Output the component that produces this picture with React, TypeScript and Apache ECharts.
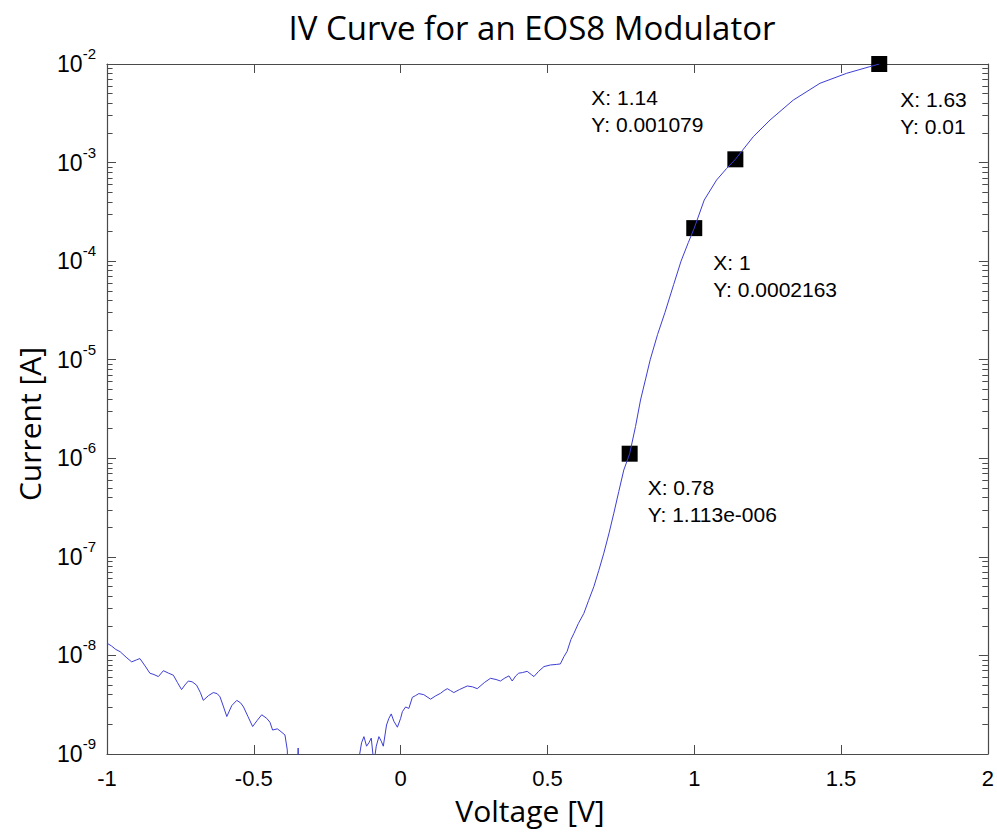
import React, { useEffect, useRef } from 'react';
import * as echarts from 'echarts';

// IV curve samples (voltage in V, current in A)
const voltage = [
  -1.0, -0.985, -0.97, -0.955, -0.935, -0.916, -0.9, -0.888, -0.87, -0.854,
  -0.84, -0.825, -0.808, -0.79, -0.774, -0.76, -0.746, -0.735, -0.723, -0.71,
  -0.695, -0.682, -0.672, -0.655, -0.638, -0.625, -0.615, -0.603, -0.592, -0.575,
  -0.558, -0.545, -0.535, -0.52, -0.504, -0.488, -0.473, -0.456, -0.445, -0.436,
  -0.42, -0.411, -0.394, -0.386, -0.382, -0.365, -0.352, -0.349, -0.345, -0.3,
  -0.25, -0.2, -0.15, -0.142, -0.133, -0.125, -0.116, -0.108, -0.1, -0.091,
  -0.083, -0.074, -0.066, -0.059, -0.048, -0.04, -0.032, -0.023, -0.011, 0.0,
  0.006, 0.017, 0.028, 0.04, 0.05, 0.062, 0.079, 0.09, 0.102, 0.12,
  0.136, 0.148, 0.159, 0.17, 0.181, 0.2, 0.227, 0.245, 0.261, 0.285,
  0.306, 0.325, 0.34, 0.355, 0.369, 0.38, 0.392, 0.402, 0.415, 0.431,
  0.445, 0.454, 0.47, 0.488, 0.51, 0.53, 0.544, 0.556, 0.567, 0.58,
  0.59, 0.605, 0.624, 0.64, 0.658, 0.675, 0.692, 0.71, 0.726, 0.743,
  0.76, 0.78, 0.8, 0.817, 0.835, 0.85, 0.875, 0.9, 0.93, 0.955,
  0.98, 1.0, 1.034, 1.076, 1.11, 1.14, 1.201, 1.258, 1.337, 1.428,
  1.519, 1.598, 1.63,
];
const current = [
  1.33e-8, 1.25e-8, 1.15e-8, 1.09e-8, 9.6e-9, 8.6e-9, 9.0e-9, 9.3e-9, 7.8e-9, 6.6e-9,
  6.4e-9, 6.1e-9, 7.0e-9, 6.6e-9, 6.3e-9, 5.3e-9, 4.5e-9, 5.0e-9, 5.5e-9, 5.4e-9,
  5.0e-9, 4.2e-9, 3.5e-9, 3.9e-9, 4.2e-9, 4.1e-9, 3.8e-9, 3.0e-9, 2.4e-9, 3.1e-9,
  3.5e-9, 3.3e-9, 3.0e-9, 2.4e-9, 1.9e-9, 2.2e-9, 2.5e-9, 2.3e-9, 2.1e-9, 1.75e-9,
  1.8e-9, 1.72e-9, 1.56e-9, 1.1e-9, 4e-10, 3e-10, 6e-10, 1.15e-9, 5e-10, 2e-10,
  2e-10, 2e-10, 3e-10, 9e-10, 1.3e-9, 1.5e-9, 1.2e-9, 1.3e-9, 1.45e-9, 8e-10,
  1.2e-9, 1.5e-9, 1.35e-9, 1.2e-9, 1.97e-9, 2.3e-9, 2.55e-9, 2.15e-9, 1.87e-9, 2.3e-9,
  2.69e-9, 3.0e-9, 2.9e-9, 3.76e-9, 3.9e-9, 4.1e-9, 4.0e-9, 3.8e-9, 3.6e-9, 3.9e-9,
  4.13e-9, 4.4e-9, 4.6e-9, 4.4e-9, 4.2e-9, 4.5e-9, 4.9e-9, 4.8e-9, 4.6e-9, 5.3e-9,
  5.86e-9, 5.7e-9, 5.5e-9, 5.9e-9, 6.2e-9, 5.5e-9, 6.2e-9, 6.6e-9, 6.7e-9, 6.9e-9,
  6.4e-9, 6.1e-9, 6.9e-9, 7.7e-9, 8.0e-9, 8.1e-9, 8.2e-9, 9.7e-9, 1.1e-8, 1.45e-8,
  1.67e-8, 2.1e-8, 2.67e-8, 3.6e-8, 4.98e-8, 7.3e-8, 1.09e-7, 1.75e-7, 2.77e-7, 4.6e-7,
  7.6e-7, 1.113e-6, 2.1e-6, 3.9e-6, 6.5e-6, 1.0e-5, 1.8e-5, 3.0e-5, 5.8e-5, 1.0e-4,
  1.55e-4, 2.163e-4, 4.17e-4, 6.65e-4, 8.7e-4, 1.079e-3, 1.83e-3, 2.7e-3, 4.3e-3, 6.37e-3,
  8.05e-3, 9.4e-3, 1.0e-2,
];

// Data tips
const tipX = [0.78, 1, 1.14, 1.63];
const tipY = [1.113e-6, 2.163e-4, 1.079e-3, 0.01];
const tipXText = ['0.78', '1', '1.14', '1.63'];
const tipYText = ['1.113e-006', '0.0002163', '0.001079', '0.01'];

// Axis ranges / ticks
const xMin = -1;
const xMax = 2;
const xStep = 0.5;
const yMinExp = -9;
const yMaxExp = -2;
const minorMantissas = [2, 3, 4, 5, 6, 7, 8, 9];

const titleText = 'IV Curve for an EOS8 Modulator';
const xName = 'Voltage [V]';
const yName = 'Current [A]';

export default function App() {
  const ref = useRef<HTMLDivElement>(null);

  useEffect(() => {
    if (!ref.current) return;
    const chart = echarts.init(ref.current, null, { renderer: 'svg' });

    const axisColor = '#4a4a4a';
    const fontSans = 'Liberation Sans, Arial, sans-serif';
    const lineData = voltage.map((v, i) => [v, current[i]]);
    const minorVals: number[] = [];
    for (let e = yMinExp; e < yMaxExp; e++) {
      for (const m of minorMantissas) minorVals.push(m * Math.pow(10, e));
    }
    // minor tick length expressed in axis units (~5px of 293.7px per volt)
    const minorLen = 0.019;
    const minorLines: any[] = [];
    minorVals.forEach((v) => {
      minorLines.push([{ coord: [xMin, v] }, { coord: [xMin + minorLen, v] }]);
      minorLines.push([{ coord: [xMax, v] }, { coord: [xMax - minorLen, v] }]);
    });

    const labelPos = [
      [26, 28],
      [27, 29],
      [-136, -67],
      [29, 30],
    ];

    const yMin = Math.pow(10, yMinExp);
    const yMax = Math.pow(10, yMaxExp);

    const baseX = {
      type: 'value',
      min: xMin,
      max: xMax,
      interval: xStep,
      axisLine: { show: true, onZero: false, lineStyle: { color: axisColor, width: 1.2 } },
      axisTick: { show: true, inside: true, length: 9, lineStyle: { color: axisColor } },
      splitLine: { show: false },
    };
    const baseY = {
      type: 'log',
      logBase: 10,
      min: yMin,
      max: yMax,
      splitNumber: yMaxExp - yMinExp,
      axisLine: { show: true, onZero: false, lineStyle: { color: axisColor, width: 1.2 } },
      axisTick: { show: true, inside: true, length: 9, lineStyle: { color: axisColor } },
      splitLine: { show: false },
    };

    const option: any = {
      animation: false,
      backgroundColor: '#ffffff',
      grid: { left: 107, right: 9, top: 64, bottom: 80 },
      xAxis: [
        {
          ...baseX,
          position: 'bottom',
          axisLabel: {
            margin: 12,
            fontSize: 22,
            lineHeight: 24,
            color: '#000',
            fontFamily: fontSans,
            formatter: (v: number) => String(v),
          },
        },
        { ...baseX, position: 'top', axisLabel: { show: false } },
      ],
      yAxis: [
        {
          ...baseY,
          position: 'left',
          axisLabel: {
            margin: 11,
            color: '#000',
            fontFamily: fontSans,
            formatter: (v: number) => `{b|10}{e|${Math.round(Math.log10(v))}}`,
            rich: {
              b: { fontSize: 23, lineHeight: 36, color: '#000', fontFamily: fontSans },
              e: { fontSize: 15, lineHeight: 10, verticalAlign: 'top', color: '#000', fontFamily: fontSans },
            },
          },
        },
        { ...baseY, position: 'right', axisLabel: { show: false } },
      ],
      graphic: [
        {
          type: 'text',
          x: 532,
          y: 27,
          style: {
            text: titleText,
            fontSize: 33,
            fontFamily: 'Open Sans, Noto Sans, sans-serif',
            fill: '#000',
            align: 'center',
            verticalAlign: 'middle',
          },
        },
        {
          type: 'text',
          x: 530,
          y: 810,
          style: {
            text: xName,
            fontSize: 30,
            fontFamily: 'Open Sans, Noto Sans, sans-serif',
            fill: '#000',
            align: 'center',
            verticalAlign: 'middle',
          },
        },
        {
          type: 'text',
          x: 29,
          y: 424,
          rotation: Math.PI / 2,
          style: {
            text: yName,
            fontSize: 30,
            fontFamily: 'Open Sans, Noto Sans, sans-serif',
            fill: '#000',
            align: 'center',
            verticalAlign: 'middle',
          },
        },
      ],
      series: [
        {
          type: 'line',
          name: 'IV',
          xAxisIndex: 0,
          yAxisIndex: 0,
          data: lineData,
          showSymbol: false,
          symbol: 'none',
          clip: true,
          lineStyle: { color: '#3d3dd4', width: 1 },
          silent: true,
          markLine: {
            silent: true,
            symbol: ['none', 'none'],
            label: { show: false },
            lineStyle: { color: axisColor, width: 1, type: 'solid' },
            emphasis: { disabled: true },
            data: minorLines,
          },
        },
        {
          type: 'scatter',
          name: 'tips',
          xAxisIndex: 0,
          yAxisIndex: 0,
          symbol: 'rect',
          symbolSize: 16,
          itemStyle: { color: '#000', opacity: 1 },
          data: tipX.map((x, i) => ({
            value: [x, tipY[i]],
            label: {
              show: true,
              position: labelPos[i],
              align: 'left',
              verticalAlign: 'top',
              formatter: `X: ${tipXText[i]}\nY: ${tipYText[i]}`,
              fontSize: 21,
              lineHeight: 27,
              color: '#000',
              fontFamily: fontSans,
            },
          })),
        },
      ],
    };

    chart.setOption(option);
    return () => chart.dispose();
  }, []);

  return (
    <div
      ref={ref}
      style={{ position: 'fixed', left: 0, top: 0, width: 997, height: 834, background: '#fff' }}
    />
  );
}
